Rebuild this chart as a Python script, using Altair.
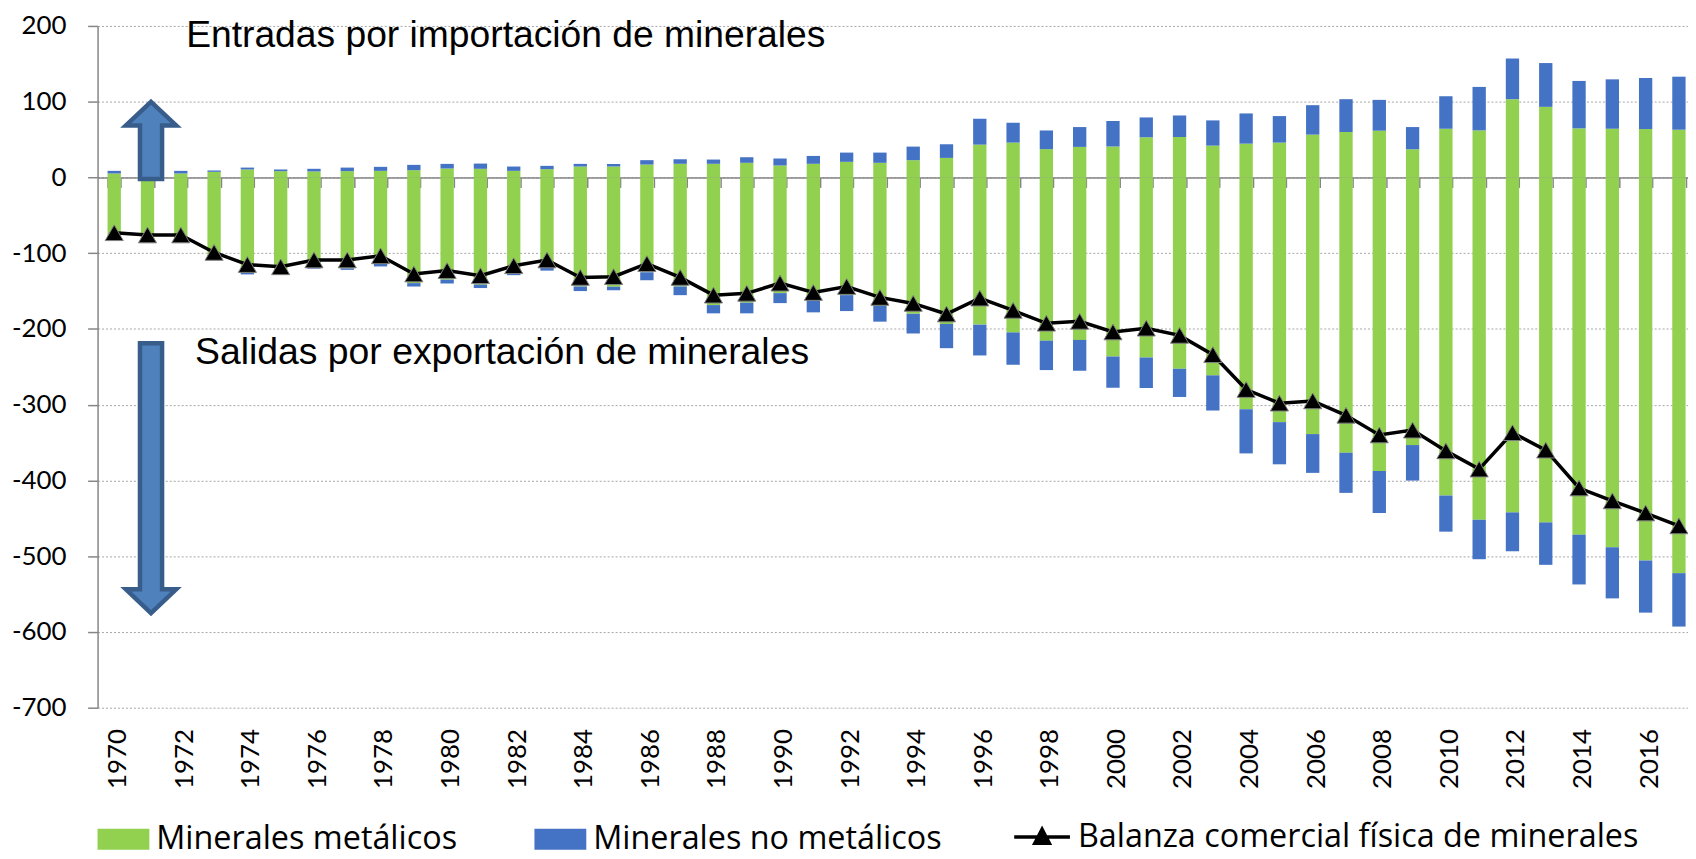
import altair as alt
import pandas as pd

anios = list(range(1970, 2018))

# Importaciones (entradas)
met_imp = [5.2, 6.0, 5.2, 7.4, 10.5, 8.3, 7.9, 8.3, 8.7, 9.6,
           11.8, 11.4, 8.7, 10.9, 14.4, 14.4, 17.0, 18.0, 18.0, 19.3,
           15.8, 18.0, 20.6, 19.3, 22.8, 25.8, 43.3, 46.0, 37.4, 40.3,
           40.7, 53.0, 53.4, 42.0, 44.6, 46.0, 56.5, 60.0, 61.7, 37.2,
           64.3, 62.1, 103.3, 93.2, 64.8, 64.3, 63.9, 63.0]
nomet_imp = [3.5, 2.0, 3.5, 1.8, 2.5, 2.2, 3.5, 4.7, 5.3, 7.0,
             6.1, 6.9, 5.7, 4.4, 3.5, 3.5, 5.8, 6.0, 5.6, 7.4,
             9.2, 10.4, 12.2, 13.5, 17.9, 18.0, 34.2, 26.2, 24.6, 26.2,
             33.7, 26.2, 28.4, 33.3, 39.9, 35.0, 38.9, 43.3, 40.7, 29.3,
             42.9, 57.4, 53.7, 57.8, 62.6, 65.2, 67.4, 70.0]
# Exportaciones (salidas)
met_exp = [80.0, 82.5, 83.0, 106.5, 126.0, 126.5, 118.5, 120.0, 114.0, 139.5,
           135.0, 141.5, 125.0, 119.0, 144.0, 144.4, 125.2, 144.0, 168.5, 165.4,
           152.7, 162.4, 155.4, 169.4, 180.0, 193.4, 194.3, 204.6, 215.5, 214.5,
           236.4, 237.7, 252.6, 261.3, 306.0, 323.0, 338.8, 363.4, 387.5, 353.3,
           419.9, 451.9, 442.2, 455.4, 471.6, 488.2, 505.7, 522.4]
nomet_exp = [1.7, 1.5, 1.7, 1.7, 2.0, 2.0, 1.9, 2.0, 3.5, 4.5,
             5.0, 4.5, 4.0, 4.0, 6.0, 4.6, 10.5, 11.4, 10.9, 14.0,
             13.2, 15.7, 21.0, 21.0, 26.0, 32.0, 40.7, 42.7, 38.8, 40.7,
             41.1, 40.3, 37.2, 46.4, 58.3, 55.7, 51.2, 53.0, 55.5, 46.9,
             47.7, 52.1, 51.3, 56.0, 65.7, 67.5, 68.8, 70.5]
balanza = [-73, -76, -76, -99, -115, -118, -109, -109, -103.5, -127.5,
           -123, -129.7, -116.6, -109, -132, -131, -113.8, -132, -155.4, -153,
           -139.6, -151.9, -144, -158.4, -166.3, -180.3, -159.3, -175.5, -192.5, -190,
           -204, -199, -208.5, -234, -280, -298, -295, -314, -340, -333.6,
           -361, -385, -337, -360, -410, -427, -443, -460]

S_MET = "Minerales metálicos"
S_NOM = "Minerales no metálicos"
S_BAL = "Balanza comercial física de minerales"
TXT_IN = "Entradas por importación de minerales"
TXT_OUT = "Salidas por exportación de minerales"

GREEN = "#92D050"
BLUE = "#4472C4"
GRAY = "#868686"

rows = []
for i, a in enumerate(anios):
    rows.append(dict(anio=a, serie=S_MET, y0=0, y1=met_imp[i]))
    rows.append(dict(anio=a, serie=S_NOM, y0=met_imp[i], y1=met_imp[i] + nomet_imp[i]))
    rows.append(dict(anio=a, serie=S_MET, y0=0, y1=-met_exp[i]))
    rows.append(dict(anio=a, serie=S_NOM, y0=-met_exp[i], y1=-met_exp[i] - nomet_exp[i]))
bars_df = pd.DataFrame(rows)
bal_df = pd.DataFrame({"anio": anios, "balanza": balanza, "serie": S_BAL})
one_df = pd.DataFrame({"k": [0]})

W, H = 1598, 685
YMIN, YMAX = -700, 200
zero_px = (YMAX - 0) / (YMAX - YMIN) * H

xscale = alt.Scale(range=[0, 48 * 33.45], paddingInner=0.6, paddingOuter=0.3)
yscale = alt.Scale(domain=[YMIN, YMAX], nice=False, zero=False)

y_axis = alt.Axis(values=list(range(YMIN, YMAX + 1, 100)), labelFont="Lato",
                  labelFontSize=26, labelColor="black", labelPadding=21.6,
                  labelExpr="datum.value + ''",
                  tickSize=10, tickColor=GRAY, tickWidth=1.5,
                  domainColor=GRAY, domainWidth=1.5,
                  grid=True, gridColor="#a6a6a6", gridDash=[2, 2],
                  title=None)

RECT_PATH = "M-0.93,-0.375H0.93V0.375H-0.93Z"
LINE_TRI_PATH = "M-1,0H1M0,-0.28L0.26,0.22L-0.26,0.22Z"
UP_PATH = "M0,0L0.253,0.238L0.111,0.238L0.111,0.776L-0.111,0.776L-0.111,0.238L-0.253,0.238Z"
DOWN_PATH = "M0,0L0.253,-0.241L0.111,-0.241L0.111,-2.712L-0.111,-2.712L-0.111,-0.241L-0.253,-0.241Z"

LEG_Y1 = 789
LEG_Y2 = 785
LEG_FS = 32.5

bars = alt.Chart(bars_df).mark_bar().encode(
    x=alt.X("anio:O", scale=xscale,
            axis=alt.Axis(values=anios[::2], labelAngle=-90, labelFont="Lato",
                          labelFontSize=26, labelColor="black", labelPadding=21,
                          labelOffset=4, orient="bottom",
                          domain=False, ticks=False, grid=False, title=None,
                          labelOverlap=False)),
    y=alt.Y("y0:Q", scale=yscale, axis=y_axis),
    y2="y1:Q",
    color=alt.Color("serie:N",
                    scale=alt.Scale(domain=[S_MET, S_NOM], range=[GREEN, BLUE]),
                    legend=alt.Legend(orient="none", legendX=-2, legendY=LEG_Y1,
                                      direction="horizontal", title=None,
                                      symbolType=RECT_PATH, symbolSize=3136,
                                      symbolStrokeWidth=0, labelOffset=5,
                                      columnPadding=75, labelFont="Open Sans",
                                      labelFontSize=LEG_FS, labelColor="black",
                                      labelLimit=2000, padding=0)),
)

line = alt.Chart(bal_df).mark_line(strokeWidth=3.5).encode(
    x=alt.X("anio:O", scale=xscale,
            axis=alt.Axis(orient="bottom", offset=-(H - zero_px), labels=False,
                          title=None, domain=True, domainColor=GRAY, domainWidth=1.5,
                          ticks=True, tickColor=GRAY, tickWidth=1.5, tickSize=10,
                          tickBand="extent", grid=False)),
    y=alt.Y("balanza:Q", scale=yscale, axis=y_axis),
    stroke=alt.Stroke("serie:N",
                      scale=alt.Scale(domain=[S_BAL], range=["black"]),
                      legend=alt.Legend(orient="none", legendX=919, legendY=LEG_Y2,
                                        direction="horizontal", title=None,
                                        symbolType=LINE_TRI_PATH, symbolSize=3136,
                                        symbolStrokeWidth=3.5, symbolFillColor="black",
                                        labelOffset=6, labelFont="Open Sans",
                                        labelFontSize=LEG_FS, labelColor="black",
                                        labelLimit=2000, padding=0)),
)

points = alt.Chart(bal_df).mark_point(
    shape="triangle-up", size=330, filled=True, fill="black",
    stroke="#808080", strokeWidth=1, opacity=1
).encode(
    x=alt.X("anio:O", scale=xscale, axis=None),
    y=alt.Y("balanza:Q", scale=yscale, axis=y_axis),
)

up_arrow = alt.Chart(one_df).mark_point(
    shape=UP_PATH, size=40000, filled=True, fill="#4F81BD",
    stroke="#385D8A", strokeWidth=4.5, opacity=1
).encode(x=alt.value(53.7), y=alt.value(76.2))

down_arrow = alt.Chart(one_df).mark_point(
    shape=DOWN_PATH, size=40000, filled=True, fill="#4F81BD",
    stroke="#385D8A", strokeWidth=4.5, opacity=1
).encode(x=alt.value(53.7), y=alt.value(590.1))

txt_in = alt.Chart(one_df).mark_text(
    text=TXT_IN, font="Liberation Sans", fontSize=37.4, color="black",
    align="left", baseline="alphabetic"
).encode(x=alt.value(89), y=alt.value(21))

txt_out = alt.Chart(one_df).mark_text(
    text=TXT_OUT, font="Liberation Sans", fontSize=37.5, color="black",
    align="left", baseline="alphabetic"
).encode(x=alt.value(98), y=alt.value(340))

chart = alt.layer(
    bars, line, points, up_arrow, down_arrow, txt_in, txt_out
).resolve_axis(x="independent").resolve_scale(x="shared").properties(
    width=W, height=H,
    autosize=alt.AutoSizeParams(type="none"),
    padding={"left": 90, "top": 16, "right": 0, "bottom": 150},
    background="white",
).configure_view(stroke=None)

chart.save("out.html", embed_options={"renderer": "svg", "actions": False})
